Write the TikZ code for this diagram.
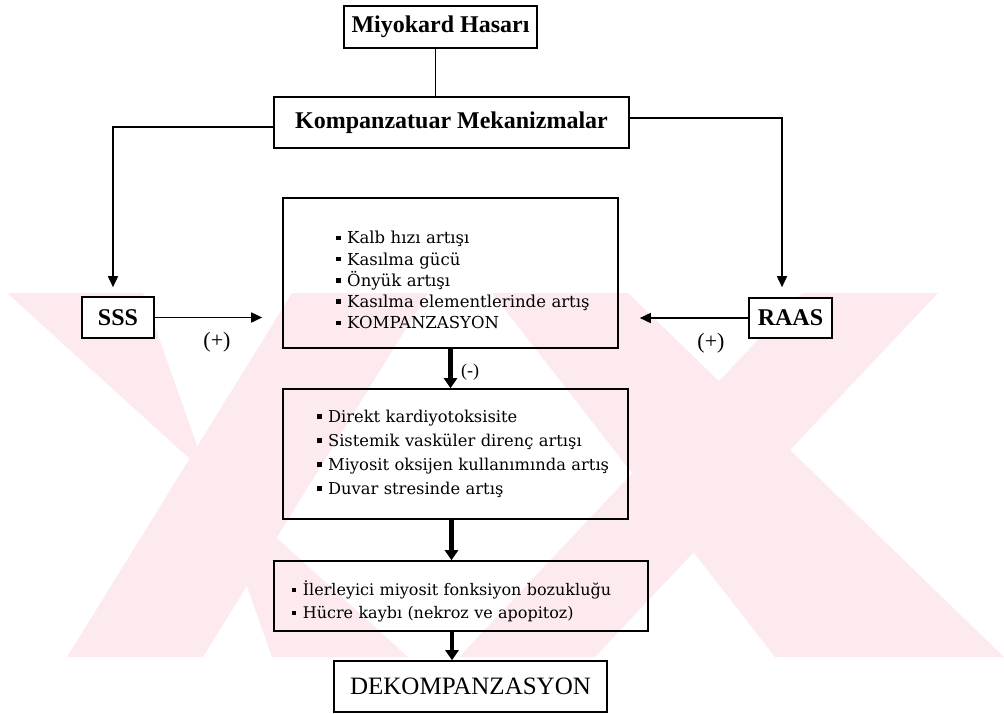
\documentclass[tikz,border=0pt]{standalone}
\usepackage{fontspec}
\setmainfont{Liberation Serif}
\newfontfamily\maddefont{DejaVu Serif}
\usetikzlibrary{arrows.meta, calc}

\definecolor{filigran}{RGB}{253,234,238}
\newcommand{\madde}[1]{\hspace*{#1}\rule[.22em]{.28em}{.28em}\hspace{.4em}}

\begin{document}
\begin{tikzpicture}
          [
            x=1pt, y=-1pt,
            baslik/.style={draw,line width=1.6pt,inner sep=0pt,font=\bfseries\fontsize{24}{28}\selectfont},
            kutu/.style={draw,line width=1.6pt,inner xsep=0pt,align=left},
            ince/.style={line width=1.6pt,-{Triangle[width=10pt,length=11pt]}},
            kalin/.style={line width=4.5pt,-{Triangle[width=13pt,length=10pt]}},
            isaret/.style={font=\fontsize{22}{26}\selectfont}
          ]
          \useasboundingbox (0,0) rectangle (1004,713);
          % filigran
          \begin{scope}
            \clip (0,293) rectangle (1004,657);
            \foreach \a/\b/\c/\d in {7/143/408/272, 292/428/67/203, 492/628/775/1004, 802/938/459/595} {
                \fill [filigran] (\a,293) -- (\b,293) -- (\d,657) -- (\c,657) -- cycle;
            }
          \end{scope}
          % ust kutular
          \node[baslik,minimum width=193pt,minimum height=42pt] (hasar) at (440.5,27) {Miyokard Hasarı};
          \node[baslik,minimum width=355pt,minimum height=51pt] (mekan) at (451.5,122.5) {Kompanzatuar Mekanizmalar};
          \node[baslik,fill=white,minimum width=72pt,minimum height=41pt] (sss) at (118,317.5) {SSS};
          \node[baslik,fill=white,minimum width=83pt,minimum height=40pt] (raas) at (790.5,318) {RAAS};
          % orta kutular
          \node[kutu,text width=335pt,minimum height=150pt,font=\maddefont\fontsize{16.5}{21.3}\selectfont] (komp) at (450.5,273)
          {%
            \madde{53pt}\rule{0pt}{27pt}Kalb hızı artışı\\
            \madde{53pt}Kasılma gücü\\
            \madde{53pt}Önyük artışı\\
            \madde{53pt}Kasılma elementlerinde artış\\
            \madde{53pt}KOMPANZASYON
          };
          \node[kutu,text width=345pt,minimum height=130pt,font=\maddefont\fontsize{16.3}{24}\selectfont] (zarar) at (455.5,454)
          {%
            \madde{34pt}Direkt kardiyotoksisite\\
            \madde{34pt}Sistemik vasküler direnç artışı\\
            \madde{34pt}Miyosit oksijen kullanımında artış\\
            \madde{34pt}Duvar stresinde artış
          };
          \node[kutu,text width=374pt,minimum height=70pt,font=\maddefont\fontsize{16}{23}\selectfont] (kayip) at (461,596)
          {%
            \madde{18pt}\rule{0pt}{26pt}İlerleyici miyosit fonksiyon bozukluğu\\
            \madde{18pt}Hücre kaybı (nekroz ve apopitoz)
          };
          \node[draw,line width=1.6pt,inner sep=0pt,font=\fontsize{25}{30}\selectfont,minimum width=273pt,minimum height=51pt] (dekomp) at (470.5,686.5) {DEKOMPANZASYON};
          % isaretler
          \node[isaret] (arti1) at (217,342) {(+)};
          \node[isaret] (arti2) at (711,343) {(+)};
          \node[isaret,font=\fontsize{18}{21}\selectfont] (eksi) at (470,372) {(-)};
          % baglantilar
          \draw [line width=1.6pt] ([xshift=-5pt]hasar.south) -- ([xshift=-5pt]hasar.south |- mekan.north);
          \draw [ince] ([yshift=-4.5pt]mekan.west) -| ([xshift=-5pt,yshift=9pt]sss.north);
          \draw [ince] ([yshift=4.5pt]mekan.east) -| ([xshift=-8.5pt,yshift=10pt]raas.north);
          \draw [ince] (sss.east) -- ([xshift=-20pt]komp.west |- sss.east);
          \draw [ince] (raas.west) -- ([xshift=21pt]komp.east |- raas.west);
          \draw [kalin] (komp.south) -- (komp.south |- zarar.north);
          \draw [kalin] ([xshift=-4pt]zarar.south) -- ([xshift=-4pt]zarar.south |- kayip.north);
          \draw [kalin] ([xshift=-9pt]kayip.south) -- ([xshift=-9pt]kayip.south |- dekomp.north);
        \end{tikzpicture}
\end{document}
